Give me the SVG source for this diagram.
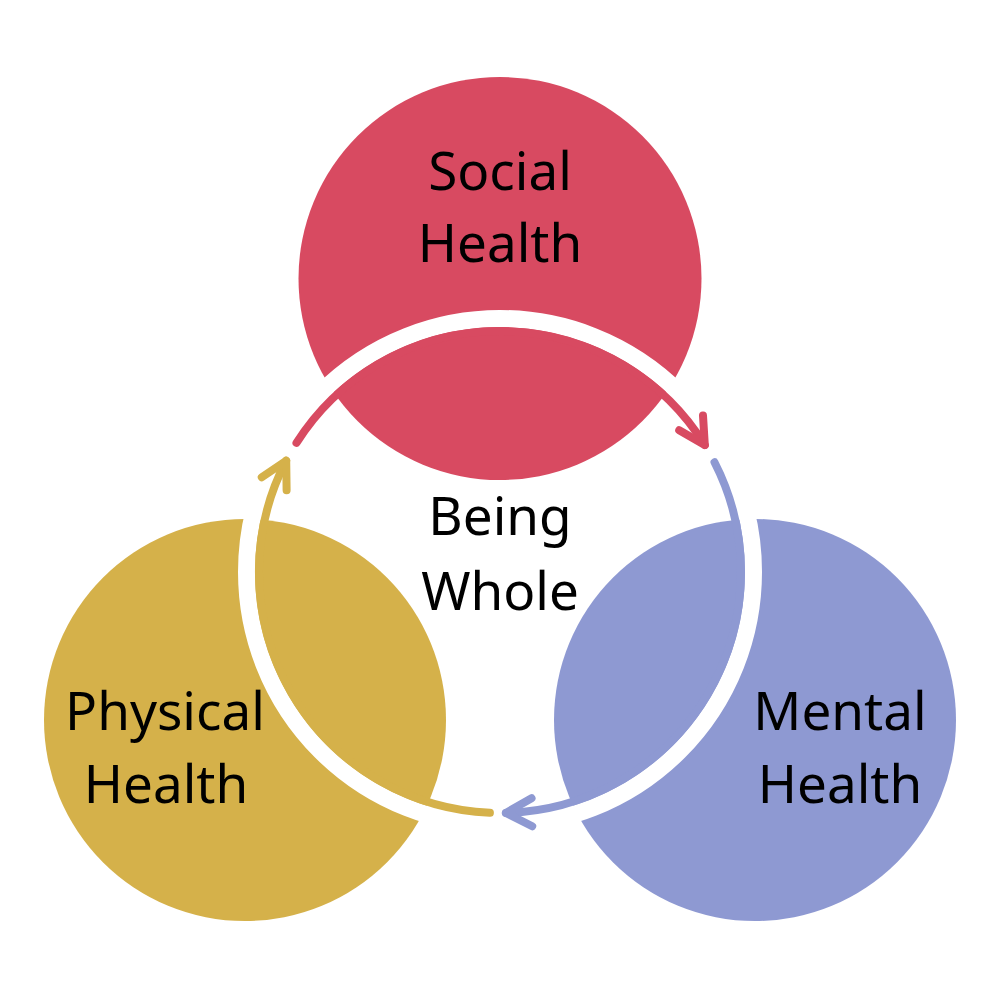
<svg xmlns="http://www.w3.org/2000/svg" width="1000" height="1000" viewBox="0 0 1000 1000">
  <style>
    .lbl { font-family: "Noto Sans", "Open Sans", sans-serif; font-size: 53px; fill: #000000; text-anchor: middle; }
    .arc { fill: none; stroke-width: 8; stroke-linecap: round; stroke-linejoin: round; }
    .red { stroke: #D84A61; }
    .blue { stroke: #8E99D2; }
    .yellow { stroke: #D5B14A; }
  </style>
  <defs>
    <marker id="headRed" markerUnits="userSpaceOnUse" orient="auto" markerWidth="60" markerHeight="60" refX="0" refY="0" viewBox="-40 -30 60 60" overflow="visible">
      <path d="M -26 -14 L 0 0 L -26 14" fill="none" stroke="#D84A61" stroke-width="8" stroke-linecap="round" stroke-linejoin="round"/>
    </marker>
    <marker id="headBlue" markerUnits="userSpaceOnUse" orient="auto" markerWidth="60" markerHeight="60" refX="0" refY="0" viewBox="-40 -30 60 60" overflow="visible">
      <path d="M -26 -14 L 0 0 L -26 14" fill="none" stroke="#8E99D2" stroke-width="8" stroke-linecap="round" stroke-linejoin="round"/>
    </marker>
    <marker id="headYellow" markerUnits="userSpaceOnUse" orient="auto" markerWidth="60" markerHeight="60" refX="0" refY="0" viewBox="-40 -30 60 60" overflow="visible">
      <path d="M -26 -14 L 0 0 L -26 14" fill="none" stroke="#D5B14A" stroke-width="8" stroke-linecap="round" stroke-linejoin="round"/>
    </marker>
  </defs>
  <rect x="0" y="0" width="1000" height="1000" fill="#FFFFFF"/>
  <g id="social">
    <circle cx="500" cy="278.5" r="201.5" fill="#D84A61"/>
  </g>
  <g id="physical">
    <circle cx="245" cy="720" r="201" fill="#D5B14A"/>
  </g>
  <g id="mental">
    <circle cx="755" cy="720" r="201" fill="#8E99D2"/>
  </g>
  <g id="connectors">
    <circle cx="500" cy="572" r="253.5" fill="none" stroke="#FFFFFF" stroke-width="17"/>
    <path class="arc red" d="M 296.5 442.9 A 241 241 0 0 1 704.8 445.0" marker-end="url(#headRed)"/>
    <path class="arc blue" d="M 714.5 462.2 A 241 241 0 0 1 505.9 812.9" marker-end="url(#headBlue)"/>
    <path class="arc yellow" d="M 489.9 812.8 A 241 241 0 0 1 286.2 460.7" marker-end="url(#headYellow)"/>
  </g>
  <g id="social-label">
    <text class="lbl" x="500" y="190">Social</text>
    <text class="lbl" x="500" y="262">Health</text>
  </g>
  <g id="center-label">
    <text class="lbl" x="500" y="535">Being</text>
    <text class="lbl" x="500" y="610">Whole</text>
  </g>
  <g id="physical-label">
    <text class="lbl" x="165" y="730">Physical</text>
    <text class="lbl" x="166" y="803">Health</text>
  </g>
  <g id="mental-label">
    <text class="lbl" x="840" y="730">Mental</text>
    <text class="lbl" x="840" y="803">Health</text>
  </g>
</svg>
